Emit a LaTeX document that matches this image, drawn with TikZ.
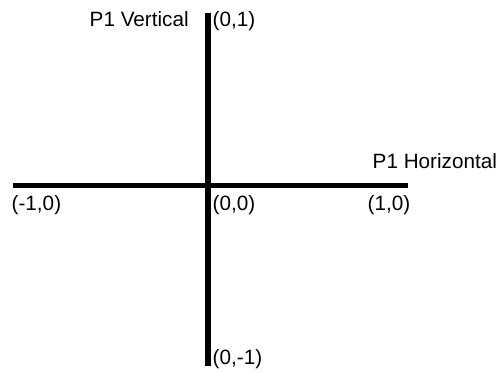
\documentclass[tikz,border=0pt]{standalone}
\usepackage{fontspec}
\setmainfont{Liberation Sans}
\begin{document}
\begin{tikzpicture}[x=1pt,y=-1pt,
  axis/.style={line width=5.5pt},
  lbl/.style={inner sep=0pt,anchor=base west,font=\fontsize{20.7}{24}\selectfont}]
\useasboundingbox (0,0) rectangle (500,372);
\coordinate (l) at (13,185.5);
\coordinate (r) at (407.5,185.5);
\coordinate (t) at (208,12.5);
\coordinate (b) at (208,365.5);
\draw[axis] (l) -- (r);
\draw[axis] (t) -- (b);
\node[lbl] (pv) at (89.5,26.7) {P1 Vertical};
\node[lbl] (c01) at (212.5,26.7) {(0,1)};
\node[lbl] (ph) at (372.5,168.3) {P1 Horizontal};
\node[lbl] (cm10) at (11.5,210) {(-1,0)};
\node[lbl] (c00) at (212.5,210) {(0,0)};
\node[lbl] (c10) at (367.5,210) {(1,0)};
\node[lbl] (c0m1) at (212.5,364) {(0,-1)};
\end{tikzpicture}
\end{document}
